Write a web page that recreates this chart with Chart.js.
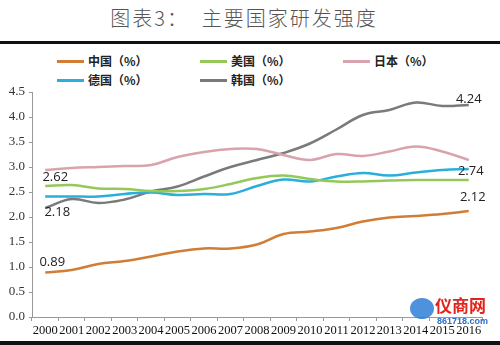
<!DOCTYPE html>
<html>
<head>
<meta charset="utf-8">
<script src="https://cdn.jsdelivr.net/npm/chart.js@4.4.1/dist/chart.umd.min.js"></script>
<style>
  html, body { margin: 0; padding: 0; background: #fff; }
  #wrap { position: relative; width: 500px; height: 345px; overflow: hidden; background: #fff; }
  #title { position: absolute; left: 0; top: 3px; width: 488px; text-align: center;
           font: 300 20px "Noto Sans CJK SC", sans-serif; color: #555; letter-spacing: 2px; }
  #rule { position: absolute; left: 0; top: 41px; width: 500px; height: 3px; background: #111; }
  #foot { position: absolute; left: 0; top: 341px; width: 500px; height: 4px; background: #111; }
  .leg { position: absolute; font: bold 12px "Noto Sans CJK SC", sans-serif; color: #222; white-space: nowrap; }
  .leg i { display: inline-block; width: 27px; height: 3px; vertical-align: middle; margin-right: 4px; margin-top: -2px; }
  #chart { position: absolute; left: 0; top: 0; }
  #mark { position: absolute; left: 435px; top: 292px; font: bold 17px "Noto Sans CJK SC", sans-serif; color: #e0231c; }
  #mark2 { position: absolute; left: 437px; top: 316px; font: bold 9px "Liberation Sans", sans-serif; color: #2a6fc9; }
  #dot { position: absolute; left: 410px; top: 298px; width: 24px; height: 21px; border-radius: 50%; background: #2f7fd8; opacity: 0.85; }
</style>
</head>
<body>
<div id="wrap">
  <div id="title">图表3：&nbsp;&nbsp;主要国家研发强度</div>
  <div id="rule"></div>
  <div id="legend"></div>
  <canvas id="chart" width="500" height="345"></canvas>
  <div id="dot"></div>
  <div id="mark">仪商网</div>
  <div id="mark2">861718.com</div>
  <div id="foot"></div>
</div>
<script>
const years = ['2000','2001','2002','2003','2004','2005','2006','2007','2008','2009','2010','2011','2012','2013','2014','2015','2016'];
const names = ['中国（%）', '美国（%）', '日本（%）', '德国（%）', '韩国（%）'];
const colors = ['#d27d36', '#94c95a', '#d9a3ad', '#2aaedb', '#7a7a7a'];

const china   = [0.89, 0.94, 1.06, 1.12, 1.21, 1.31, 1.37, 1.37, 1.45, 1.66, 1.71, 1.78, 1.91, 1.99, 2.02, 2.06, 2.12];
const usa     = [2.62, 2.64, 2.57, 2.56, 2.52, 2.52, 2.56, 2.66, 2.78, 2.83, 2.76, 2.71, 2.71, 2.73, 2.74, 2.74, 2.74];
const japan   = [2.94, 2.98, 3.00, 3.02, 3.04, 3.20, 3.30, 3.36, 3.36, 3.24, 3.14, 3.26, 3.22, 3.31, 3.41, 3.31, 3.14];
const germany = [2.41, 2.41, 2.41, 2.46, 2.49, 2.44, 2.46, 2.46, 2.62, 2.75, 2.71, 2.81, 2.88, 2.83, 2.89, 2.94, 2.96];
const korea   = [2.18, 2.36, 2.28, 2.35, 2.51, 2.61, 2.81, 3.00, 3.14, 3.28, 3.47, 3.75, 4.04, 4.14, 4.29, 4.22, 4.24];
const yTicks  = [0.0, 0.5, 1.0, 1.5, 2.0, 2.5, 3.0, 3.5, 4.0, 4.5];

const series = [china, usa, japan, germany, korea];

// legend: two rows, three columns
const legPos = [[57, 52], [200, 52], [343, 52], [57, 71], [200, 71]];
const legend = document.getElementById('legend');
names.forEach((n, i) => {
  const d = document.createElement('div');
  d.className = 'leg';
  d.style.left = legPos[i][0] + 'px';
  d.style.top = legPos[i][1] + 'px';
  d.innerHTML = `<i style="background:${colors[i]}"></i>${n}`;
  legend.appendChild(d);
});

// value callouts: [series, point index, dx, dy]
const callouts = [
  [0, 0, 7, -10], [1, 0, 10, -9], [4, 0, 12, 4],
  [4, 16, 0, -6], [1, 16, 2, -9], [0, 16, 4, -14]
];

const valueLabels = {
  id: 'valueLabels',
  afterDatasetsDraw(chart) {
    const ctx = chart.ctx;
    ctx.save();
    ctx.font = '13px "Open Sans", sans-serif';
    ctx.fillStyle = '#222';
    ctx.textAlign = 'center';
    ctx.textBaseline = 'middle';
    callouts.forEach(c => {
      const v = series[c[0]][c[1]];
      const x = chart.scales.x.getPixelForValue(c[1]);
      const y = chart.scales.y.getPixelForValue(v);
      ctx.fillText(v.toFixed(2), x + c[2], y + c[3]);
    });
    ctx.restore();
  }
};

const ctx = document.getElementById('chart').getContext('2d');
const myChart = new Chart(ctx, {
  type: 'line',
  data: {
    labels: years,
    datasets: series.map((s, i) => ({
      label: names[i],
      data: s,
      borderColor: colors[i],
      backgroundColor: colors[i],
      borderWidth: 2.5,
      pointRadius: 0,
      tension: 0.4,
      fill: false
    }))
  },
  options: {
    responsive: false,
    animation: false,
    layout: { padding: { top: 92, left: 0, right: 18, bottom: 0 } },
    plugins: {
      legend: { display: false },
      title: { display: false },
      tooltip: { enabled: false }
    },
    scales: {
      x: {
        offset: true,
        grid: { display: true, drawOnChartArea: false, offset: true, tickLength: 4, color: '#999' },
        border: { color: '#999', width: 1 },
        ticks: {
          autoSkip: false, maxRotation: 0, padding: 2, color: '#111',
          font: { family: '"Liberation Serif", serif', size: 12.5 }
        },
        afterFit(s) { s.height = 28; }
      },
      y: {
        min: 0, max: 4.5,
        afterBuildTicks(s) { s.ticks = yTicks.map(v => ({ value: v })); },
        grid: { display: true, drawOnChartArea: false, tickLength: 3, color: '#999' },
        border: { color: '#999', width: 1 },
        ticks: {
          padding: 4, color: '#333',
          font: { family: '"Liberation Serif", serif', size: 13 },
          callback: v => Number(v).toFixed(1)
        },
        afterFit(s) { s.width = 32; }
      }
    }
  },
  plugins: [valueLabels]
});
</script>
</body>
</html>
